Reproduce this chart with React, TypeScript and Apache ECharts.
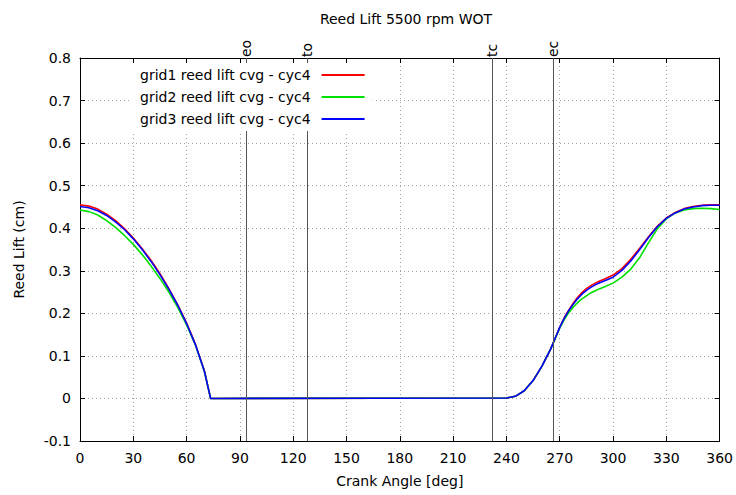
import React, { useEffect, useRef } from 'react';
import * as echarts from 'echarts';

const titleText = 'Reed Lift 5500 rpm WOT';
const seriesNames = ['grid1 reed lift cvg - cyc4', 'grid2 reed lift cvg - cyc4', 'grid3 reed lift cvg - cyc4'];
const seriesColors = ['#ff0000', '#00e000', '#0000ff'];

const angles = [
  0, 5, 10, 15, 20, 25, 30, 35, 40, 45, 50, 55, 60, 65, 70, 73.5,
  240, 245, 250, 255, 260, 265, 267.5, 270, 272.5, 275, 277.5, 280, 282.5, 285, 287.5, 290, 292.5, 295,
  300, 305, 310, 315, 320, 325, 330, 335, 340, 345, 350, 355, 360,
];

const grid1 = [
  0.455, 0.452, 0.445, 0.433, 0.418, 0.399, 0.377, 0.352, 0.324, 0.293, 0.258, 0.220, 0.177, 0.127, 0.065, 0,
  0.001, 0.005, 0.018, 0.042, 0.076, 0.117, 0.142, 0.167, 0.189, 0.207, 0.223, 0.237, 0.249, 0.258, 0.265, 0.271, 0.276, 0.280,
  0.290, 0.305, 0.327, 0.353, 0.380, 0.405, 0.424, 0.437, 0.446, 0.451, 0.454, 0.455, 0.455,
];
const grid2 = [
  0.443, 0.439, 0.431, 0.418, 0.402, 0.383, 0.362, 0.338, 0.311, 0.282, 0.250, 0.214, 0.173, 0.125, 0.064, 0,
  0.001, 0.005, 0.018, 0.042, 0.076, 0.117, 0.141, 0.165, 0.185, 0.201, 0.214, 0.225, 0.234, 0.241, 0.248, 0.253, 0.258, 0.262,
  0.271, 0.285, 0.304, 0.331, 0.366, 0.399, 0.422, 0.436, 0.443, 0.446, 0.447, 0.446, 0.444,
];
const grid3 = [
  0.451, 0.448, 0.441, 0.430, 0.415, 0.397, 0.375, 0.350, 0.322, 0.291, 0.257, 0.219, 0.176, 0.126, 0.064, 0,
  0.001, 0.005, 0.018, 0.042, 0.076, 0.117, 0.142, 0.167, 0.188, 0.206, 0.221, 0.234, 0.245, 0.254, 0.261, 0.267, 0.272, 0.276,
  0.285, 0.301, 0.323, 0.350, 0.378, 0.404, 0.423, 0.436, 0.445, 0.450, 0.453, 0.454, 0.454,
];
const seriesValues = [grid1, grid2, grid3];

const markerNames = ['eo', 'to', 'tc', 'ec'];
const markerAngles = [93.6, 127.9, 232.1, 266.2];

const xTitle = 'Crank Angle [deg]';
const yTitle = 'Reed Lift (cm)';

export default function App() {
  const ref = useRef<HTMLDivElement>(null);
  useEffect(() => {
    const chart = echarts.init(ref.current!, null, { renderer: 'svg' });
    const font = 'DejaVu Sans';
    const fs = 14;
    const frame = { show: true, onZero: false, lineStyle: { color: '#000', width: 1 } };
    const tick = { show: true, inside: true, length: 5, lineStyle: { color: '#000', width: 1 } };
    const split = { show: true, lineStyle: { color: '#a0a0a0', width: 1, type: [1, 3] } };
    const xBase = { type: 'value', min: 0, max: 360, interval: 30 };
    const yBase = { type: 'value', min: -0.1, max: 0.8, interval: 0.1 };

    chart.setOption({
      animation: false,
      backgroundColor: '#fff',
      title: {
        text: titleText,
        left: 401,
        top: 7,
        textAlign: 'center',
        textStyle: { fontFamily: font, fontSize: fs, fontWeight: 'normal', color: '#000' },
      },
      grid: { left: 80, right: 15, top: 58, bottom: 54 },
      legend: {
        data: seriesNames,
        orient: 'vertical',
        left: 132,
        top: 63,
        z: 20,
        align: 'right',
        icon: 'rect',
        itemWidth: 43,
        itemHeight: 2,
        itemGap: 8,
        padding: [5, 8],
        backgroundColor: '#fff',
        textStyle: { fontFamily: font, fontSize: fs, color: '#000', lineHeight: 14, padding: [0, 6, 0, 0] },
      },
      xAxis: [
        {
          ...xBase,
          position: 'bottom',
          name: xTitle,
          nameLocation: 'middle',
          nameGap: 33,
          nameTextStyle: { fontFamily: font, fontSize: fs, color: '#000' },
          axisLine: frame,
          axisTick: tick,
          splitLine: split,
          axisLabel: { fontFamily: font, fontSize: fs, color: '#000', margin: 10 },
        },
        {
          ...xBase,
          position: 'top',
          axisLine: frame,
          axisTick: tick,
          splitLine: { show: false },
          axisLabel: { show: false },
        },
      ],
      yAxis: [
        {
          ...yBase,
          position: 'left',
          name: yTitle,
          nameLocation: 'middle',
          nameGap: 54,
          nameTextStyle: { fontFamily: font, fontSize: fs, color: '#000' },
          axisLine: frame,
          axisTick: tick,
          splitLine: split,
          axisLabel: {
            fontFamily: font,
            fontSize: fs,
            color: '#000',
            margin: 9,
            formatter: (v: number) => String(parseFloat(v.toFixed(1))),
          },
        },
        {
          ...yBase,
          position: 'right',
          axisLine: frame,
          axisTick: tick,
          splitLine: { show: false },
          axisLabel: { show: false },
        },
      ],
      series: seriesNames.map((name, si) => ({
        name,
        type: 'line',
        xAxisIndex: 0,
        yAxisIndex: 0,
        symbol: 'none',
        showSymbol: false,
        lineStyle: { color: seriesColors[si], width: 1.6 },
        itemStyle: { color: seriesColors[si] },
        data: angles.map((a, i) => [a, seriesValues[si][i]]),
        markLine:
          si === 0
            ? {
                silent: true,
                symbol: ['none', 'none'],
                label: { show: false },
                lineStyle: { color: '#555', width: 1, type: 'solid' },
                data: markerAngles.map((v) => ({ xAxis: v })),
              }
            : undefined,
      })),
    });

    const topY = chart.convertToPixel({ yAxisIndex: 0 }, 0.8) as number;
    chart.setOption({
      graphic: markerNames.map((n, i) => ({
        type: 'text',
        x: chart.convertToPixel({ xAxisIndex: 0 }, markerAngles[i]) as number,
        y: topY - 1,
        rotation: Math.PI / 2,
        style: {
          text: n,
          fontFamily: font,
          fontSize: fs,
          fill: '#000',
          align: 'left',
          verticalAlign: 'middle',
        },
      })),
    });

    return () => chart.dispose();
  }, []);
  return <div ref={ref} style={{ position: 'fixed', left: 0, top: 0, width: 736, height: 495 }} />;
}
